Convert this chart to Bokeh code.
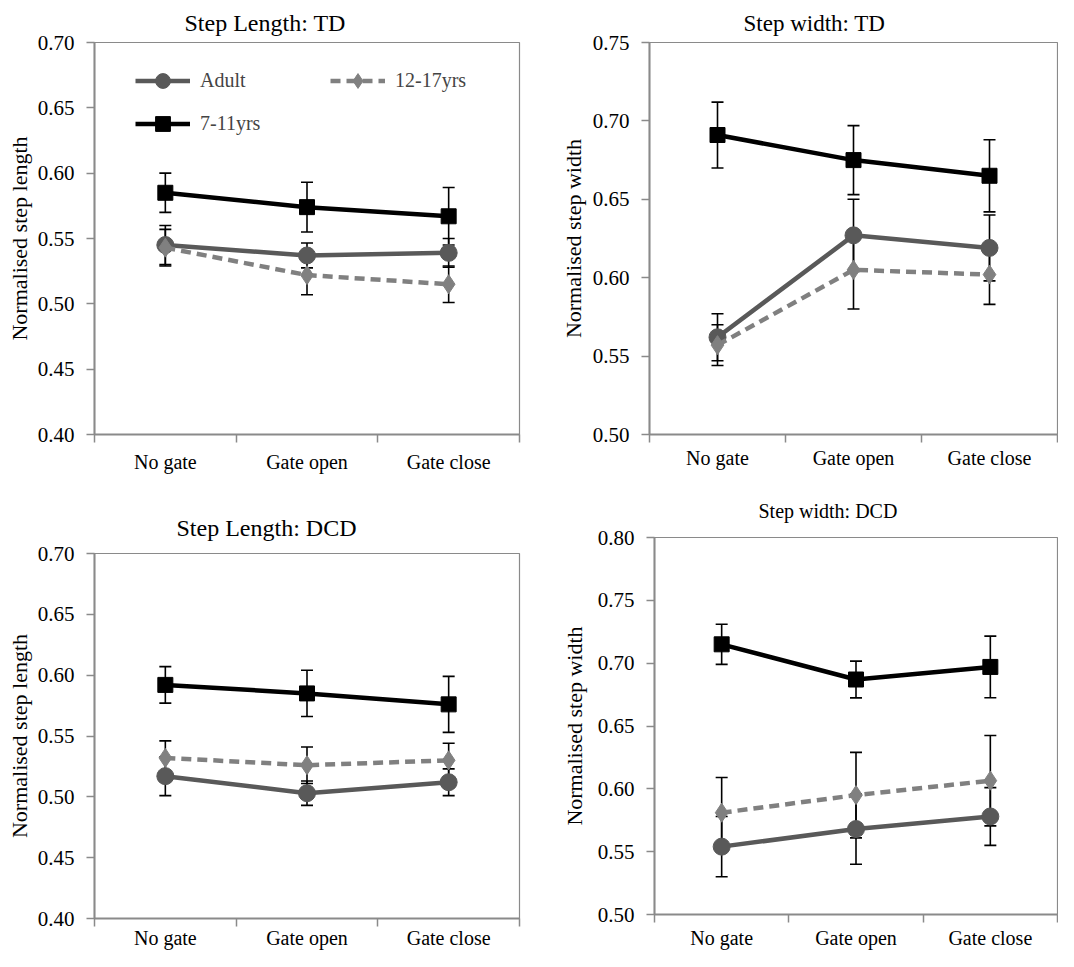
from bokeh.plotting import figure
from bokeh.models import (ColumnDataSource, Whisker, TeeHead, FixedTicker, LinearAxis,
                          Range1d, Legend, LegendItem, NumeralTickFormatter)
from bokeh.layouts import column, row
from bokeh.embed import file_html
from bokeh.resources import INLINE

conditions = ["No gate", "Gate open", "Gate close"]
groups = ["Adult", "12-17yrs", "7-11yrs"]

# Step Length: TD
sl_td_adult = [0.545, 0.537, 0.539]
sl_td_adult_err = [0.015, 0.0095, 0.011]
sl_td_teen = [0.543, 0.522, 0.515]
sl_td_teen_err = [0.014, 0.015, 0.014]
sl_td_child = [0.585, 0.574, 0.567]
sl_td_child_err = [0.015, 0.019, 0.022]

# Step width: TD
sw_td_adult = [0.562, 0.627, 0.619]
sw_td_adult_err = [0.015, 0.023, 0.021]
sw_td_teen = [0.557, 0.605, 0.602]
sw_td_teen_err = [0.013, 0.025, 0.019]
sw_td_child = [0.691, 0.675, 0.665]
sw_td_child_err = [0.021, 0.022, 0.023]

# Step Length: DCD
sl_dcd_adult = [0.517, 0.503, 0.512]
sl_dcd_adult_err = [0.016, 0.010, 0.011]
sl_dcd_teen = [0.532, 0.526, 0.530]
sl_dcd_teen_err = [0.014, 0.015, 0.014]
sl_dcd_child = [0.592, 0.585, 0.576]
sl_dcd_child_err = [0.015, 0.019, 0.023]

# Step width: DCD
sw_dcd_adult = [0.554, 0.568, 0.578]
sw_dcd_adult_err = [0.024, 0.028, 0.023]
sw_dcd_teen = [0.581, 0.595, 0.6065]
sw_dcd_teen_err = [0.028, 0.034, 0.036]
sw_dcd_child = [0.715, 0.687, 0.697]
sw_dcd_child_err = [0.016, 0.0146, 0.0245]

yticks_length = [0.40, 0.45, 0.50, 0.55, 0.60, 0.65, 0.70]
yticks_width_td = [0.50, 0.55, 0.60, 0.65, 0.70, 0.75]
yticks_width_dcd = [0.50, 0.55, 0.60, 0.65, 0.70, 0.75, 0.80]

FONT = "Liberation Serif"
AXIS_GRAY = "#8a8a8a"
ADULT_C = "#595959"
TEEN_C = "#808080"
CHILD_C = "#000000"


def panel(title, ylabel, yticks, series, w, h, bl, br, bt, bb, title_off, title_size,
          title_standoff, ylab_standoff, xlab_standoff, show_legend=False):
    xs = list(range(1, len(conditions) + 1))
    p = figure(width=w, height=h, x_range=Range1d(0.5, len(conditions) + 0.5),
               y_range=Range1d(yticks[0], yticks[-1]), output_backend="svg",
               toolbar_location=None, x_axis_location=None,
               min_border_left=bl, min_border_right=br, min_border_top=bt,
               min_border_bottom=bb, title=title, frame_align=False)
    p.grid.visible = False
    p.outline_line_color = AXIS_GRAY
    p.outline_line_width = 1.2
    p.background_fill_color = "white"
    p.border_fill_color = "white"

    p.title.text_font = FONT
    p.title.text_font_size = title_size
    p.title.text_font_style = "normal"
    p.title.text_color = "black"
    p.title.align = "left"
    p.title.offset = title_off
    p.title.standoff = title_standoff

    ya = p.yaxis[0]
    ya.ticker = FixedTicker(ticks=yticks)
    ya.formatter = NumeralTickFormatter(format="0.00")
    ya.minor_tick_line_color = None
    ya.major_tick_out = 8
    ya.major_tick_in = 0
    ya.major_tick_line_color = AXIS_GRAY
    ya.major_tick_line_width = 1.5
    ya.axis_line_color = AXIS_GRAY
    ya.axis_line_width = 2
    ya.major_label_text_font = FONT
    ya.major_label_text_font_size = "21px"
    ya.major_label_text_color = "black"
    ya.major_label_standoff = 12
    ya.axis_label = ylabel
    ya.axis_label_text_font = FONT
    ya.axis_label_text_font_size = "22px"
    ya.axis_label_text_font_style = "normal"
    ya.axis_label_text_color = "black"
    ya.axis_label_standoff = ylab_standoff

    # category labels at the centres, tick marks at the category boundaries
    bounds = [i + 0.5 for i in range(len(conditions) + 1)]
    xa = LinearAxis(ticker=FixedTicker(ticks=xs, minor_ticks=bounds),
                    major_label_overrides={x: c for x, c in zip(xs, conditions)},
                    major_tick_line_color=None, major_tick_out=8, major_tick_in=0,
                    minor_tick_line_color=AXIS_GRAY, minor_tick_line_width=1.5,
                    minor_tick_out=8, minor_tick_in=0,
                    axis_line_color=AXIS_GRAY, axis_line_width=2,
                    major_label_text_font=FONT, major_label_text_font_size="20px",
                    major_label_text_color="black",
                    major_label_standoff=xlab_standoff)
    p.add_layout(xa, "below")

    items = []
    styles = [
        (ADULT_C, None, "circle", 17),
        (TEEN_C, "10 6", "diamond", 19),
        (CHILD_C, None, "square", 15),
    ]
    for (vals, errs), (col, dash, mk, sz) in zip(series, styles):
        src = ColumnDataSource(dict(x=xs, y=vals,
                                    lo=[v - e for v, e in zip(vals, errs)],
                                    hi=[v + e for v, e in zip(vals, errs)]))
        wk = Whisker(base="x", upper="hi", lower="lo", source=src,
                     line_color="black", line_width=1.6, level="underlay",
                     upper_head=TeeHead(size=12, line_color="black", line_width=1.6),
                     lower_head=TeeHead(size=12, line_color="black", line_width=1.6))
        p.add_layout(wk)
    for (vals, errs), (col, dash, mk, sz), name in zip(series, styles, groups):
        src = ColumnDataSource(dict(x=xs, y=vals))
        kw = dict(line_dash=dash) if dash else {}
        ln = p.line("x", "y", source=src, line_color=col, line_width=4.5, **kw)
        sc = p.scatter("x", "y", source=src, marker=mk, size=sz, fill_color=col,
                       line_color=col)
        items.append(LegendItem(label=name, renderers=[ln, sc]))

    if show_legend:
        lg = Legend(items=items, orientation="horizontal", ncols=2,
                    location=(41, 292), glyph_width=55, glyph_height=37,
                    label_width=124, label_standoff=10, spacing=6, padding=6,
                    label_text_font=FONT, label_text_font_size="20px",
                    border_line_color=None, background_fill_alpha=0)
        p.add_layout(lg, "center")
    return p


f1 = panel("Step Length: TD", "Normalised step length", yticks_length,
           [(sl_td_adult, sl_td_adult_err), (sl_td_teen, sl_td_teen_err),
            (sl_td_child, sl_td_child_err)],
           550, 481, 94, 31, 42, 47, 90, "24px", 13, 3, 8, show_legend=True)
f2 = panel("Step  width: TD", "Normalised step width", yticks_width_td,
           [(sw_td_adult, sw_td_adult_err), (sw_td_teen, sw_td_teen_err),
            (sw_td_child, sw_td_child_err)],
           508, 481, 99, 1, 42, 47, 94, "23px", 13, 4, 4)
f3 = panel("Step Length: DCD", "Normalised step length", yticks_length,
           [(sl_dcd_adult, sl_dcd_adult_err), (sl_dcd_teen, sl_dcd_teen_err),
            (sl_dcd_child, sl_dcd_child_err)],
           550, 470, 94, 31, 72, 32, 82, "24px", 26, 3, 0)
f4 = panel("Step width: DCD", "Normalised step width", yticks_width_dcd,
           [(sw_dcd_adult, sw_dcd_adult_err), (sw_dcd_teen, sw_dcd_teen_err),
            (sw_dcd_child, sw_dcd_child_err)],
           508, 470, 104, 1, 55, 37, 104, "20px", 32, 8, 4)

layout = column(row(f1, f2), row(f3, f4))
open("out.html", "w").write(file_html(layout, INLINE))
